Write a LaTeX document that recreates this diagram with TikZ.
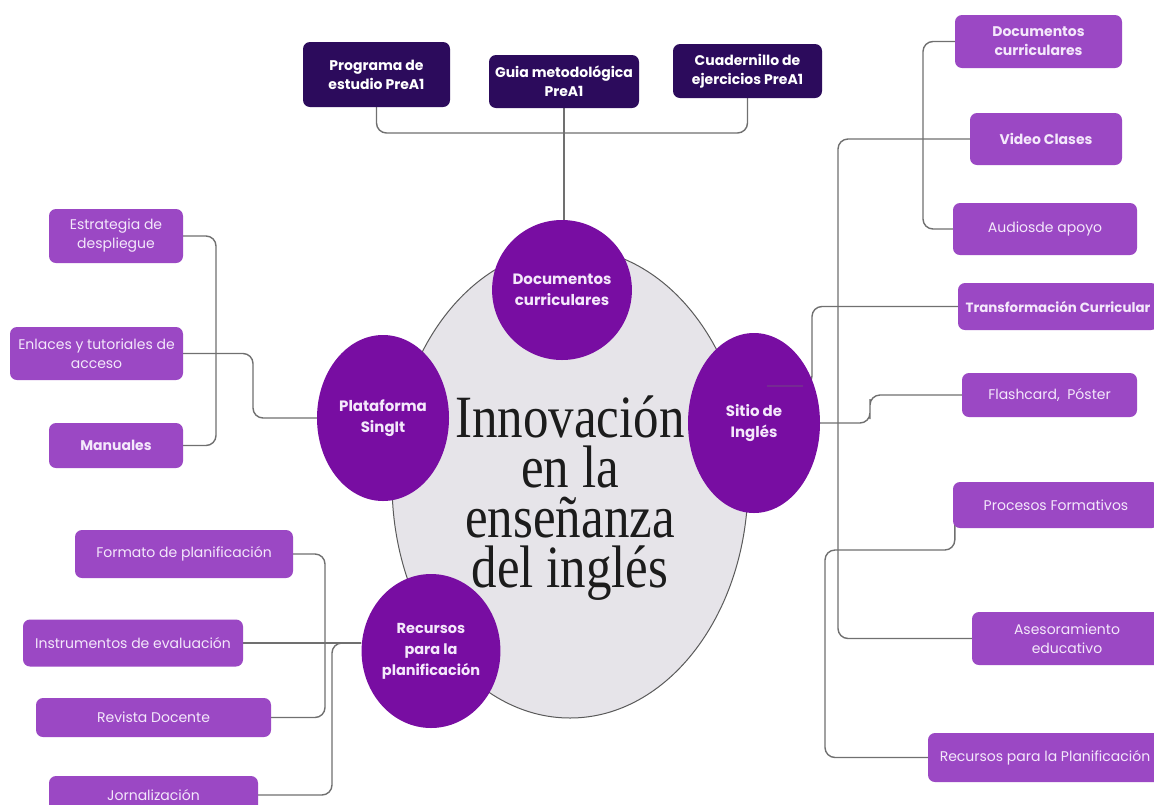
\documentclass[tikz,border=0pt]{standalone}
\usepackage{fontspec}
\usepackage{graphicx}
\newfontfamily\pop{Poppins}
\newfontfamily\ttl{Liberation Serif}
\usetikzlibrary{shapes.geometric}
\definecolor{hubc}{HTML}{780DA2}
\definecolor{boxc}{HTML}{9B48C4}
\definecolor{darkc}{HTML}{2C0B5C}
\definecolor{lav}{HTML}{F4E8FB}
\definecolor{linec}{HTML}{707070}
\definecolor{bigfill}{HTML}{E6E4E9}
\definecolor{bigline}{HTML}{5A5A5A}
\definecolor{ttlc}{HTML}{1C1C1C}
\pgfdeclarelayer{bg}
\pgfdeclarelayer{lines}
\pgfsetlayers{bg,lines,main}
\begin{document}
\begin{tikzpicture}[x=1pt,y=-1pt,
  lbl/.style={font=\pop\fontsize{14}{19}\selectfont, text=lav, align=center, inner sep=0pt},
  lblb/.style={lbl, font=\pop\bfseries\fontsize{14}{19}\selectfont},
  pbox/.style={lbl, fill=boxc, rounded corners=7pt},
  pboxb/.style={lblb, fill=boxc, rounded corners=7pt},
  dbox/.style={lblb, fill=darkc, text=white, rounded corners=7pt},
  hub/.style={lblb, ellipse, fill=hubc, font=\pop\bfseries\fontsize{15}{21}\selectfont},
  conn/.style={draw=linec, line width=1.4pt, rounded corners=10pt},
  ttlblock/.style={font=\ttl\fontsize{60}{50}\selectfont, text=ttlc, align=center, inner sep=0pt}
]
\useasboundingbox (0,0) rectangle (1154,804);
\begin{pgfonlayer}{bg}
  \fill[white] (0,0) rectangle (1154,804);
  \node[ellipse, draw=bigline, line width=1pt, fill=bigfill, minimum width=356, minimum height=470, inner sep=0pt] (big) at (570,483) {};
\end{pgfonlayer}

\begin{scope}
\clip (0,0) rectangle (1154,804);
% top dark boxes
\node[dbox, minimum width=147, minimum height=65] (prog) at (376.5,74.5) {Programa de\\estudio PreA1};
\node[dbox, minimum width=150, minimum height=53] (guia) at (564,81.5) {Guia metodológica\\PreA1};
\node[dbox, minimum width=149, minimum height=54] (cuad) at (747.5,71) {Cuadernillo de\\ejercicios PreA1};
% left boxes
\node[pbox, minimum width=134, minimum height=54] (estr) at (116,236) {Estrategia de\\despliegue};
\node[pbox, minimum width=173, minimum height=53] (enl) at (96.5,353.5) {Enlaces y tutoriales de\\acceso};
\node[pboxb, minimum width=134, minimum height=45] (man) at (116,445.5) {Manuales};
% bottom-left boxes
\node[pbox, minimum width=218, minimum height=48] (form) at (184,554) {Formato de planificación};
\node[pbox, minimum width=220, minimum height=47] (instr) at (133,643) {Instrumentos de evaluación};
\node[pbox, minimum width=235, minimum height=39] (rev) at (153.5,717.5) {Revista Docente};
\node[pbox, minimum width=209, minimum height=38] (jorn) at (153.5,795) {Jornalización};
% right boxes
\node[pboxb, minimum width=167, minimum height=53] (rdoc) at (1038.5,41.5) {Documentos\\curriculares};
\node[pboxb, minimum width=152, minimum height=52] (vid) at (1046,139) {Video Clases};
\node[pbox, minimum width=184, minimum height=52] (aud) at (1045,229) {Audiosde apoyo};
\node[pboxb, minimum width=200, minimum height=47, font=\pop\bfseries\fontsize{13.4}{19}\selectfont] (trans) at (1058,306.5) {Transformación Curricular};
\node[pbox, minimum width=175, minimum height=44] (flash) at (1049.5,395) {Flashcard,\ \ Póster};
\node[pbox, minimum width=206, minimum height=46] (proc) at (1056,505) {Procesos Formativos};
\node[pbox, minimum width=190, minimum height=53] (ases) at (1067,638.5) {Asesoramiento\\educativo};
\node[pbox, minimum width=234, minimum height=49] (rrec) at (1045,757.5) {Recursos para la Planificación};
\end{scope}

% hub circles
\node[hub, minimum width=132, minimum height=140] (cdoc) at (562,290) {Documentos\\curriculares};
\node[hub, minimum width=132, minimum height=166] (cplat) at (383,418) {Plataforma\\SingIt};
\node[hub, minimum width=132, minimum height=180] (csit) at (754,423) {Sitio de\\Inglés};
\node[hub, minimum width=138, minimum height=154, font=\pop\bfseries\fontsize{14.5}{21}\selectfont] (crec) at (431,651) {Recursos\\para la\\planificación};

% title
\node[ttlblock] (ttl) at (570,498) {\scalebox{0.85}[1]{Innovación}\\\scalebox{0.85}[1]{en la}\\\scalebox{0.85}[1]{enseñanza}\\\scalebox{0.85}[1]{del inglés}};

% connectors
\begin{pgfonlayer}{lines}
  \coordinate (tb) at (563,133);
  \draw[conn] (prog.south) |- (tb) -| (cuad.south);
  \draw[conn] (guia.south) -- (guia.south |- cdoc.north);
  \draw[conn] (estr.east) -| (216,340) |- (man.east);
  \draw[conn] (enl.east) -| (253,385) |- (cplat.west);
  \draw[conn] (form.east) -| (325,640) |- (rev.east);
  \coordinate (recin) at (crec.west |- instr.east);
  \draw[conn] (instr.east) -- (recin);
  \draw[conn] (jorn.east) -| (332,720) |- (recin);
  \draw[conn] (rdoc.west) -| (923,130) |- (aud.west);
  \draw[conn] (vid.west) -| (838,400) |- (ases.west);
  \coordinate (sitin) at (767,386);
  \draw[conn] (sitin) -| (812,350) |- (trans.west);
  \draw[conn] (csit.east) -| (870,409) |- (flash.west);
  \draw[conn] ([xshift=2pt,yshift=5pt]proc.south west) |- (825,550) |- (rrec.west);
\end{pgfonlayer}
\draw[linec, line width=1.2pt, opacity=0.3] (sitin) -- +(36,0);
\end{tikzpicture}
\end{document}
